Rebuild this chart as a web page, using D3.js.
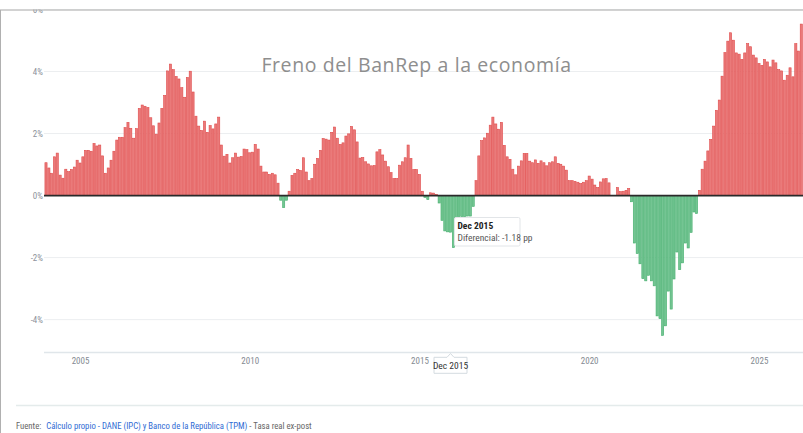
<!DOCTYPE html>
<html>
<head>
<meta charset="utf-8">
<script src="https://cdn.jsdelivr.net/npm/d3@7/dist/d3.min.js"></script>
<style>
  body { margin: 0; background: #fff; }
  svg { display: block; }
  .tick-label { font-family: "Liberation Sans Narrow", "Roboto Condensed", "Arial Narrow", Roboto, sans-serif; }
</style>
</head>
<body>
<svg id="chart" width="803" height="433"></svg>
<script>
// Monthly series, one value per month starting at startMonth (pp)
const startMonth = '2004-01';
const diferencial = [
  1.06, 0.89, 0.72, 1.25, 1.37, 0.66, 0.56, 0.85, 0.77, 0.84, 0.92, 1.14,     // 2004
  1.05, 1.25, 1.46, 1.46, 1.43, 1.68, 1.60, 1.63, 1.28, 0.72, 0.89, 1.14,     // 2005
  1.43, 1.79, 1.88, 1.88, 2.19, 2.36, 2.17, 1.85, 2.16, 2.81, 2.92, 2.88,     // 2006
  2.84, 2.51, 2.25, 1.98, 2.34, 2.81, 3.23, 4.02, 4.24, 4.06, 3.84, 3.76,     // 2007
  3.48, 3.17, 3.81, 4.01, 3.34, 2.56, 2.24, 2.10, 2.40, 2.04, 2.26, 2.15,     // 2008
  2.31, 2.53, 1.63, 1.27, 1.33, 1.05, 1.22, 1.37, 1.24, 1.26, 1.50, 1.48,     // 2009
  1.38, 1.40, 1.65, 1.50, 0.95, 0.76, 0.76, 0.68, 0.72, 0.67, 0.40, -0.15,    // 2010
  -0.39, -0.15, 0.14, 0.65, 0.72, 0.84, 0.81, 1.22, 0.76, 0.48, 0.55, 1.01,   // 2011
  1.20, 1.46, 1.84, 1.82, 1.79, 2.04, 2.21, 1.85, 1.65, 1.70, 1.92, 1.99,     // 2012
  2.23, 2.12, 1.73, 1.21, 1.23, 1.09, 1.02, 0.96, 0.97, 1.41, 1.48, 1.31,     // 2013
  1.11, 0.93, 0.74, 0.55, 0.55, 0.98, 1.09, 1.22, 1.63, 1.20, 0.84, 0.84,     // 2014
  0.68, 0.14, -0.06, -0.13, 0.09, 0.08, 0.04, -0.24, -0.80, -1.14, -1.17, -1.18, // 2015
  -1.68, -0.70, -0.68, -0.68, -0.68, -0.66, -0.66, -0.35, 0.48, 1.28, 1.77, 1.86, // 2016
  2.01, 2.27, 2.53, 2.31, 2.14, 2.36, 1.62, 1.25, 1.17, 0.85, 0.67, 0.95,     // 2017
  1.12, 1.36, 1.36, 1.11, 1.06, 1.15, 1.04, 1.12, 1.06, 0.96, 1.06, 1.09,     // 2018
  1.25, 1.04, 1.01, 0.95, 0.82, 0.48, 0.48, 0.46, 0.43, 0.39, 0.43, 0.48,     // 2019
  0.63, 0.53, 0.34, 0.26, 0.44, 0.54, 0.55, 0.41, 0, 0, 0.26, 0.13,           // 2020
  0.14, 0.17, 0.23, -0.20, -1.53, -1.87, -2.20, -2.68, -2.75, -2.57, -2.75, -2.91, // 2021
  -3.88, -3.97, -4.51, -4.20, -3.08, -3.66, -2.69, -1.82, -2.39, -2.17, -1.53, -1.69, // 2022
  -1.19, -0.53, -0.58, 0.17, 0.85, 1.11, 1.44, 1.81, 2.24, 2.75, 3.08, 3.85,  // 2023
  4.61, 4.98, 5.25, 5.01, 4.60, 4.56, 4.39, 4.60, 4.90, 4.80, 4.53, 4.44,     // 2024
  4.26, 4.20, 4.39, 4.31, 4.15, 4.37, 4.28, 4.06, 4.02, 3.72, 3.88, 4.12,     // 2025
  3.83, 4.90, 4.66, 5.53                                                      // 2026
];

const yTicks = [-4, -2, 0, 2, 4, 6];
const xTickYears = [2005, 2010, 2015, 2020, 2025];

const title = 'Freno del BanRep a la economía';
const seriesName = 'Diferencial';
const hoverMonth = '2015-12';
const sourceLabel = 'Fuente:';
const sourceLink = 'Cálculo propio - DANE (IPC) y Banco de la República (TPM)';
const sourceNote = ' - Tasa real ex-post';

// Layout
const width = 803;
const height = 433;
const plot = { left: 44, right: 803, top: 9.5, bottom: 352.5 };

const parseMonth = d3.timeParse('%Y-%m');
const fmtTooltip = d3.timeFormat('%b %Y');
const start = parseMonth(startMonth);
const data = diferencial.map((v, i) => ({ date: d3.timeMonth.offset(start, i), value: v }));

const svg = d3.select('#chart');

const x = d3.scaleTime()
    .domain([new Date(2004, 0, 1), new Date(2025, 0, 1)])
    .range([46, 759]);

const y = d3.scaleLinear()
    .domain([-5.06, 6])
    .range([plot.bottom, plot.top]);

const barWidth = (x(new Date(2025, 0, 1)) - x(new Date(2004, 0, 1))) / 252 * 0.76;

svg.append('defs').append('clipPath')
    .attr('id', 'plot-clip')
    .append('rect')
    .attr('x', plot.left)
    .attr('y', 0)
    .attr('width', plot.right - plot.left)
    .attr('height', plot.bottom);

// Grid
svg.append('g')
    .attr('class', 'grid')
    .selectAll('line')
    .data(yTicks)
    .join('line')
    .attr('x1', plot.left)
    .attr('x2', plot.right)
    .attr('y1', d => y(d))
    .attr('y2', d => y(d))
    .attr('stroke', '#eceef0')
    .attr('stroke-width', 1);

// Y axis labels
const gY = svg.append('g')
    .attr('transform', `translate(${plot.left},0)`)
    .call(d3.axisLeft(y).tickValues(yTicks).tickFormat(d => d + '%').tickSize(0).tickPadding(1));
gY.select('.domain').remove();
gY.selectAll('text')
    .attr('class', 'tick-label')
    .attr('fill', '#8d939b')
    .style('font-size', '9px');

// Bars
svg.append('g')
    .attr('clip-path', 'url(#plot-clip)')
    .selectAll('rect')
    .data(data.filter(d => d.value !== 0))
    .join('rect')
    .attr('x', d => x(d.date) - barWidth / 2)
    .attr('y', d => y(Math.max(0, d.value)))
    .attr('width', barWidth)
    .attr('height', d => Math.abs(y(d.value) - y(0)))
    .attr('fill', d => d.value >= 0 ? '#ea7a7a' : '#74c593')
    .attr('stroke', d => d.value >= 0 ? '#e04b4b' : '#43ae6c')
    .attr('stroke-width', 0.6);

// Zero line
svg.append('line')
    .attr('x1', plot.left)
    .attr('x2', plot.right)
    .attr('y1', y(0))
    .attr('y2', y(0))
    .attr('stroke', '#2a2a2a')
    .attr('stroke-width', 1.6);

// X axis
const gX = svg.append('g')
    .attr('transform', `translate(0,${plot.bottom})`)
    .call(d3.axisBottom(x)
        .tickValues(xTickYears.map(yr => new Date(yr, 0, 1)))
        .tickFormat(d3.timeFormat('%Y'))
        .tickSize(0));
gX.select('.domain').remove();
gX.selectAll('text')
    .attr('class', 'tick-label')
    .attr('fill', '#848a92')
    .attr('y', 11.5)
    .attr('dy', 0)
    .style('font-size', '9px');

svg.append('line')
    .attr('x1', plot.left)
    .attr('x2', plot.right)
    .attr('y1', plot.bottom)
    .attr('y2', plot.bottom)
    .attr('stroke', '#e0e6ea')
    .attr('stroke-width', 1.6);

// Title
svg.append('text')
    .attr('x', 416.5)
    .attr('y', 72)
    .attr('text-anchor', 'middle')
    .attr('fill', '#8e8e8e')
    .style('font-family', '"Open Sans", sans-serif')
    .style('font-size', '19.5px')
    .style('letter-spacing', '0.6px')
    .text(title);

// Hover state: tooltip + x-axis crosshair label
const hover = data.find(d => +d.date === +parseMonth(hoverMonth));
const hx = x(hover.date);

const tip = svg.append('g').attr('transform', `translate(${hx + 4},217.5)`);
tip.append('rect')
    .attr('width', 65.5)
    .attr('height', 28.5)
    .attr('rx', 1.5)
    .attr('fill', '#fff')
    .attr('stroke', '#e2e5e8');
tip.append('text')
    .attr('x', 3)
    .attr('y', 11.5)
    .attr('class', 'tick-label')
    .attr('fill', '#222')
    .style('font-size', '9.5px')
    .style('font-weight', 'bold')
    .text(fmtTooltip(hover.date));
tip.append('text')
    .attr('x', 3)
    .attr('y', 23.8)
    .attr('class', 'tick-label')
    .attr('fill', '#555')
    .style('font-size', '9.5px')
    .text(`${seriesName}: ${hover.value.toFixed(2)} pp`);

const xTip = svg.append('g').attr('transform', `translate(${hx},${plot.bottom})`);
xTip.append('path')
    .attr('d', 'M-16.5,4.8 H-3.5 L0,1 L3.5,4.8 H16.5 V20.8 H-16.5 Z')
    .attr('fill', '#fff')
    .attr('stroke', '#d4dbe0');
xTip.append('text')
    .attr('y', 16.3)
    .attr('text-anchor', 'middle')
    .attr('class', 'tick-label')
    .attr('fill', '#333')
    .style('font-size', '9.5px')
    .text(fmtTooltip(hover.date));

// Frame: top border cuts the chart, left border
svg.append('rect')
    .attr('x', 0).attr('y', 0)
    .attr('width', width).attr('height', 9.5)
    .attr('fill', '#fff');
svg.append('line')
    .attr('x1', 0).attr('x2', width)
    .attr('y1', 10).attr('y2', 10)
    .attr('stroke', '#a6a6a6');
svg.append('line')
    .attr('x1', 0.5).attr('x2', 0.5)
    .attr('y1', 10).attr('y2', height)
    .attr('stroke', '#b0b0b0');

// Footer
svg.append('line')
    .attr('x1', 16).attr('x2', width)
    .attr('y1', 405.5).attr('y2', 405.5)
    .attr('stroke', '#e4ebeb')
    .attr('stroke-width', 1.5);

const foot = svg.append('text')
    .attr('x', 16)
    .attr('y', 428.5)
    .attr('class', 'tick-label')
    .style('font-size', '8.7px');
foot.append('tspan').attr('fill', '#666').text(sourceLabel);
foot.append('tspan').attr('dx', 5).attr('fill', '#2f6bd4').text(sourceLink);
foot.append('tspan').attr('fill', '#666').text(sourceNote);
</script>
</body>
</html>
